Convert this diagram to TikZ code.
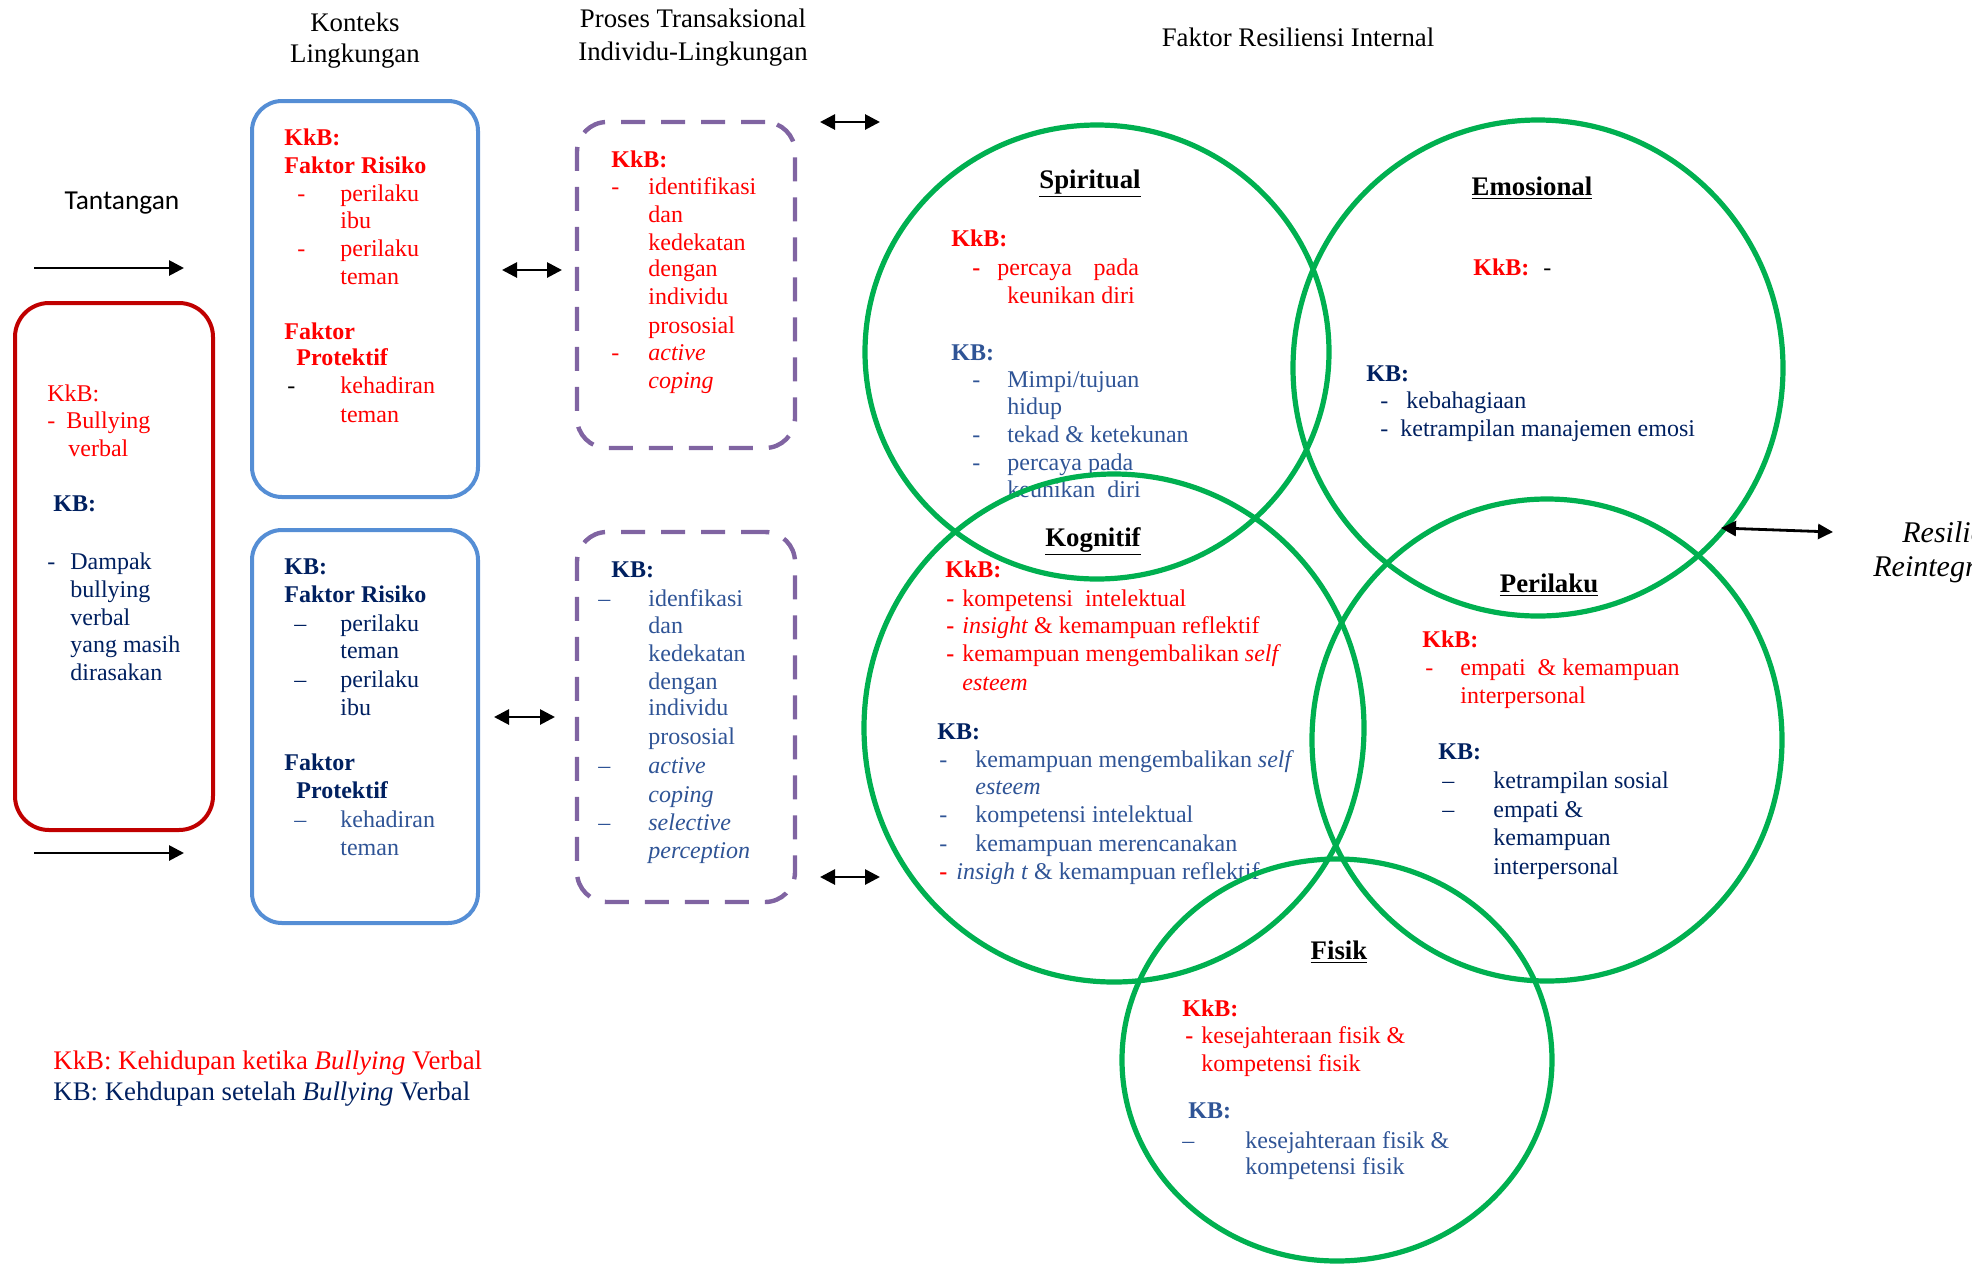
\documentclass[tikz,border=0pt]{standalone}
\usepackage{fontspec}
\setmainfont{Liberation Serif}
\newfontfamily\calibri{Carlito}
\usetikzlibrary{arrows.meta,fit}
\definecolor{kred}{HTML}{FF0000}
\definecolor{knavy}{HTML}{002060}
\definecolor{kblue}{HTML}{2F5496}
\definecolor{boxred}{HTML}{C00000}
\definecolor{boxblue}{HTML}{558ED5}
\definecolor{boxpurple}{HTML}{8064A2}
\definecolor{cgreen}{HTML}{00B050}
\newcommand\Tx[4][]{\node[txt,#1] (#2) at (#3) {#4};}
\begin{document}
\begin{tikzpicture}[x=0.5pt,y=-0.5pt,
  txt/.style={anchor=base west,inner sep=0pt,font=\fontsize{12}{14}\selectfont},
  ctr/.style={anchor=base},
  big/.style={font=\fontsize{13.4}{15}\selectfont},
  bf/.style={font=\fontsize{12}{14}\selectfont\bfseries},
  hd/.style={font=\fontsize{13.4}{15}\selectfont\bfseries},
  R/.style={text=kred}, N/.style={text=knavy}, B/.style={text=kblue}, K/.style={text=black},
  redbox/.style={draw=boxred,line width=2pt,rounded corners=17pt,inner sep=0pt},
  bluebox/.style={draw=boxblue,line width=2pt,rounded corners=15pt,inner sep=0pt},
  purplebox/.style={draw=boxpurple,line width=2.2pt,rounded corners=15pt,inner sep=0pt,dash pattern=on 12pt off 8pt},
  circ/.style={draw=cgreen,line width=2.6pt},
  arr/.style={line width=1.4pt,-{Triangle[length=7.5pt,width=7.5pt]}},
  darr/.style={line width=1.4pt,{Triangle[length=7.5pt,width=7.5pt]}-{Triangle[length=7.5pt,width=7.5pt]}}
]
\useasboundingbox (0,0) rectangle (1972,1265);
\clip (0,0) rectangle (1972,1265);

% ---------- titles ----------
\Tx[ctr,big]{kon1}{355,31}{Konteks}
\Tx[ctr,big]{kon2}{355,62}{Lingkungan}
\Tx[ctr,big]{pro1}{693,27}{Proses Transaksional}
\Tx[ctr,big]{pro2}{693,60}{Individu-Lingkungan}
\Tx[ctr,big]{fri}{1298,46}{Faktor Resiliensi Internal}
\node[txt,ctr,font=\calibri\fontsize{13.7}{15}\selectfont] (tant) at (122,209) {Tantangan};

% ---------- boxes ----------
\node[redbox,fit={(15,303)(213,830)}] (redb) {};
\node[bluebox,fit={(252,101)(478,497)}] (blue1) {};
\node[bluebox,fit={(252,530)(478,923)}] (blue2) {};
\node[purplebox,fit={(577,122)(795,448)}] (purp1) {};
\node[purplebox,fit={(577,532)(795,902)}] (purp2) {};

% ---------- red box text ----------
\Tx[R]{r1}{47,401}{KkB:}
\Tx[R]{r2}{47,428}{-}
\Tx[R]{r3}{66,428}{Bullying}
\Tx[R]{r4}{68,456}{verbal}
\Tx[N,bf]{r5}{53,511}{KB:}
\Tx[N]{r6}{47,569}{-}
\Tx[N]{r7}{70,569}{Dampak}
\Tx[N]{r8}{70,597}{bullying}
\Tx[N]{r9}{70,625}{verbal}
\Tx[N]{r10}{70,652}{yang masih}
\Tx[N]{r11}{70,680}{dirasakan}

% ---------- blue box 1 ----------
\Tx[R,bf]{b1}{284,145}{KkB:}
\Tx[R,bf]{b2}{284,173}{Faktor Risiko}
\Tx[R]{b3}{297,201}{-}
\Tx[R]{b4}{340,201}{perilaku}
\Tx[R]{b5}{340,228}{ibu}
\Tx[R]{b6}{297,256}{-}
\Tx[R]{b7}{340,256}{perilaku}
\Tx[R]{b8}{340,284}{teman}
\Tx[R,bf]{b9}{284,339}{Faktor}
\Tx[R,bf]{b10}{296,365}{Protektif}
\Tx[K]{b11}{287,393}{-}
\Tx[R]{b12}{340,393}{kehadiran}
\Tx[R]{b13}{340,422}{teman}

% ---------- blue box 2 ----------
\Tx[N,bf]{c1}{284,574}{KB:}
\Tx[N,bf]{c2}{284,602}{Faktor Risiko}
\Tx[N]{c3}{294,631}{–}
\Tx[N]{c4}{340,631}{perilaku}
\Tx[N]{c5}{340,658}{teman}
\Tx[N]{c6}{294,687}{–}
\Tx[N]{c7}{340,687}{perilaku}
\Tx[N]{c8}{340,715}{ibu}
\Tx[N,bf]{c9}{284,770}{Faktor}
\Tx[N,bf]{c10}{296,798}{Protektif}
\Tx[B]{c11}{294,827}{–}
\Tx[B]{c12}{340,827}{kehadiran}
\Tx[B]{c13}{340,855}{teman}

% ---------- purple box 1 ----------
\Tx[R,bf]{p1}{611,167}{KkB:}
\Tx[R]{p2}{611,194}{-}
\Tx[R]{p3}{648,194}{identifikasi}
\Tx[R]{p4}{648,222}{dan}
\Tx[R]{p5}{648,250}{kedekatan}
\Tx[R]{p6}{648,276}{dengan}
\Tx[R]{p7}{648,304}{individu}
\Tx[R]{p8}{648,333}{prososial}
\Tx[R]{p9}{611,360}{-}
\Tx[R]{p10}{648,360}{\textit{active}}
\Tx[R]{p11}{648,388}{\textit{coping}}

% ---------- purple box 2 ----------
\Tx[N,bf]{q1}{611,577}{KB:}
\Tx[B]{q2}{598,606}{–}
\Tx[B]{q3}{648,606}{idenfikasi}
\Tx[B]{q4}{648,633}{dan}
\Tx[B]{q5}{648,661}{kedekatan}
\Tx[B]{q6}{648,689}{dengan}
\Tx[B]{q7}{648,715}{individu}
\Tx[B]{q8}{648,744}{prososial}
\Tx[B]{q9}{598,773}{–}
\Tx[B]{q10}{648,773}{\textit{active}}
\Tx[B]{q11}{648,802}{\textit{coping}}
\Tx[B]{q12}{598,830}{–}
\Tx[B]{q13}{648,830}{\textit{selective}}
\Tx[B]{q14}{648,858}{\textit{perception}}

% ---------- Spiritual ----------
\Tx[ctr,K,hd]{s0}{1090,188}{\underline{Spiritual}}
\Tx[R,bf]{s1}{951,246}{KkB:}
\Tx[R,bf]{s2}{972,275}{-}
\Tx[R]{s3}{997,275}{percaya\hspace{0.9em}pada}
\Tx[R]{s4}{1007,303}{keunikan diri}
\Tx[B,bf]{s5}{951,360}{KB:}
\Tx[B]{s6}{972,387}{-}
\Tx[B]{s7}{1007,387}{Mimpi/tujuan}
\Tx[B]{s8}{1007,414}{hidup}
\Tx[B]{s9}{972,442}{-}
\Tx[B]{s10}{1007,442}{tekad \& ketekunan}
\Tx[B]{s11}{972,470}{-}
\Tx[B]{s12}{1007,470}{percaya pada}
\Tx[B]{s13}{1007,497}{keunikan\ \ diri}

% ---------- Emosional ----------
\Tx[ctr,K,hd]{e0}{1532,195}{\underline{Emosional}}
\Tx[R,bf]{e1}{1473,275}{KkB:}
\Tx[K]{e2}{1543,275}{-}
\Tx[N,bf]{e3}{1366,381}{KB:}
\Tx[N]{e4}{1380,408}{-}
\Tx[N]{e5}{1406,408}{kebahagiaan}
\Tx[N]{e6}{1380,436}{-}
\Tx[N]{e7}{1400,436}{ketrampilan manajemen emosi}

% ---------- Kognitif ----------
\Tx[ctr,K,hd]{k0}{1093,546}{\underline{Kognitif}}
\Tx[R,bf]{k1}{945,577}{KkB:}
\Tx[R,bf]{k2}{946,606}{-}
\Tx[R]{k3}{962,606}{kompetensi\ \ intelektual}
\Tx[R,bf]{k4}{946,633}{-}
\Tx[R]{k5}{962,633}{\textit{insight} \& kemampuan reflektif}
\Tx[R,bf]{k6}{946,661}{-}
\Tx[R]{k7}{962,661}{kemampuan mengembalikan \textit{self}}
\Tx[R]{k8}{962,690}{\textit{esteem}}
\Tx[N,bf]{k9}{937,739}{KB:}
\Tx[B]{k10}{939,767}{-}
\Tx[B]{k11}{975,767}{kemampuan mengembalikan \textit{self}}
\Tx[B]{k12}{975,794}{\textit{esteem}}
\Tx[B]{k13}{939,822}{-}
\Tx[B]{k14}{975,822}{kompetensi intelektual}
\Tx[B]{k15}{939,851}{-}
\Tx[B]{k16}{975,851}{kemampuan merencanakan}
\Tx[R,bf]{k17}{939,879}{-}
\Tx[B]{k18}{956,879}{\textit{insigh t} \& kemampuan reflektif}

% ---------- Perilaku ----------
\Tx[ctr,K,hd]{h0}{1549,592}{\underline{Perilaku}}
\Tx[R,bf]{h1}{1422,647}{KkB:}
\Tx[R]{h2}{1425,675}{-}
\Tx[R]{h3}{1460,675}{empati\ \ \& kemampuan}
\Tx[R]{h4}{1460,703}{interpersonal}
\Tx[N,bf]{h5}{1438,759}{KB:}
\Tx[N]{h6}{1442,788}{–}
\Tx[N]{h7}{1493,788}{ketrampilan sosial}
\Tx[N]{h8}{1442,817}{–}
\Tx[N]{h9}{1493,817}{empati \&}
\Tx[N]{h10}{1493,845}{kemampuan}
\Tx[N]{h11}{1493,874}{interpersonal}

% ---------- Fisik ----------
\Tx[ctr,K,hd]{f0}{1339,959}{\underline{Fisik}}
\Tx[R,bf]{f1}{1182,1016}{KkB:}
\Tx[R,bf]{f2}{1185,1043}{-}
\Tx[R]{f3}{1201,1043}{kesejahteraan fisik \&}
\Tx[R]{f4}{1201,1071}{kompetensi fisik}
\Tx[B,bf]{f5}{1188,1118}{KB:}
\Tx[B]{f6}{1182,1148}{–}
\Tx[B]{f7}{1245,1148}{kesejahteraan fisik \&}
\Tx[B]{f8}{1245,1174}{kompetensi fisik}

% ---------- legend ----------
\Tx[R,big]{l1}{53,1069}{KkB: Kehidupan ketika \textit{Bullying} Verbal}
\Tx[N,big]{l2}{53,1100}{KB: Kehdupan setelah \textit{Bullying} Verbal}

% ---------- right text (cut by the page edge, as in the source) ----------
\node[txt,K,font=\fontsize{15}{17}\selectfont\itshape] (res1) at (1902,542) {Resiliensi};
\node[txt,K,font=\fontsize{15}{17}\selectfont\itshape] (res2) at (1873,576) {Reintegrasi};

% ---------- circles ----------
\draw[circ] (1097,352) ellipse [x radius=232, y radius=227];
\draw[circ] (1538,368) ellipse [x radius=245, y radius=248];
\draw[circ] (1114,728) ellipse [x radius=250, y radius=254];
\draw[circ] (1547,740) ellipse [x radius=235, y radius=241];
\draw[circ] (1337,1060) ellipse [x radius=215, y radius=201];

% ---------- arrows ----------
\coordinate (a1s) at (34,268);  \coordinate (a1e) at (184,268);
\coordinate (a2s) at (34,853);  \coordinate (a2e) at (184,853);
\coordinate (a3s) at (502,270); \coordinate (a3e) at (562,270);
\coordinate (a4s) at (494,717); \coordinate (a4e) at (555,717);
\coordinate (a5s) at (820,122); \coordinate (a5e) at (880,122);
\coordinate (a6s) at (820,877); \coordinate (a6e) at (880,877);
\coordinate (a7s) at (1721,528); \coordinate (a7e) at (1833,532);
\draw[arr] (a1s) -- (a1e);
\draw[arr] (a2s) -- (a2e);
\draw[darr] (a3s) -- (a3e);
\draw[darr] (a4s) -- (a4e);
\draw[darr] (a5s) -- (a5e);
\draw[darr] (a6s) -- (a6e);
\draw[darr] (a7s) -- (a7e);
\end{tikzpicture}
\end{document}
